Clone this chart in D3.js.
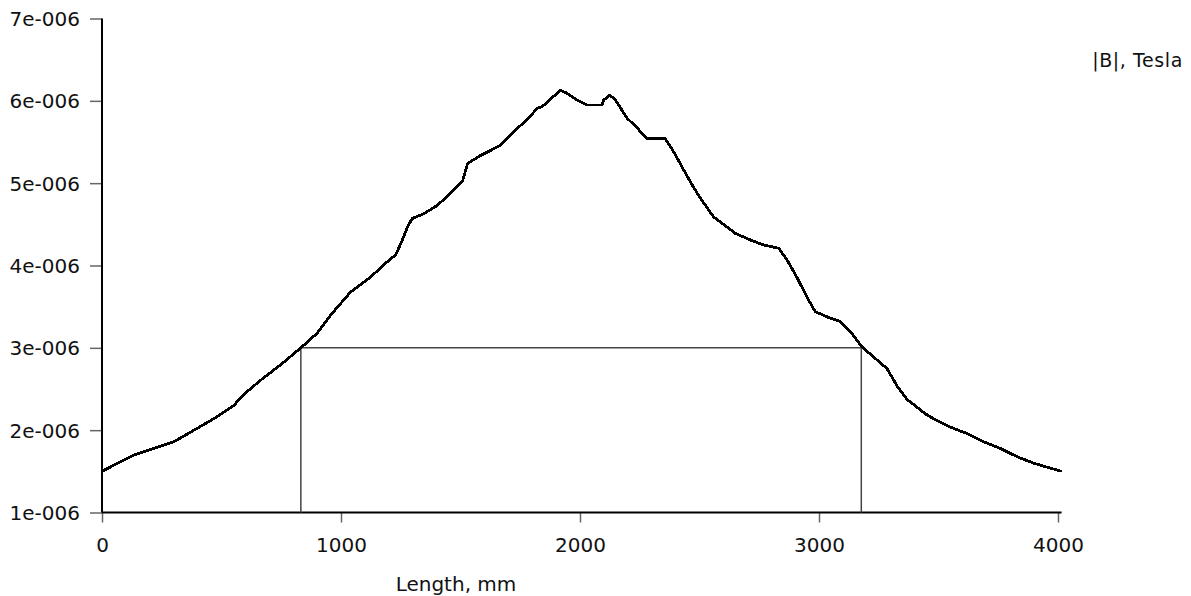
<!DOCTYPE html>
<html>
<head>
<meta charset="utf-8">
<script src="https://cdn.jsdelivr.net/npm/d3@7"></script>
<style>
  body { margin: 0; background: #fff; }
  svg text { font-family: "DejaVu Sans", Verdana, sans-serif; fill: #111; }
</style>
</head>
<body>
<div id="chart"></div>
<script>
"use strict";
(function() {

const WIDTH = 1191
const HEIGHT = 596

// |B| along the length (mm, tesla)
const lengthMm = [0, 134, 217, 301, 385, 468, 552, 581, 620, 665, 750, 832, 901, 957,
  1041, 1124, 1187, 1229, 1257, 1278, 1298, 1347, 1403, 1459, 1508, 1530, 1580, 1668,
  1723, 1779, 1821, 1842, 1877, 1918, 1947, 1988, 2030, 2093, 2099, 2125, 2148, 2197,
  2239, 2281, 2357, 2392, 2434, 2469, 2503, 2559, 2650, 2713, 2768, 2831, 2866, 2907,
  2949, 2984, 3047, 3089, 3131, 3180, 3284, 3330, 3370, 3410, 3444, 3479, 3548, 3618,
  3688, 3758, 3827, 3897, 3967, 4015]
const fieldB = [1.50, 1.70, 1.78, 1.86, 2.00, 2.14, 2.30, 2.40, 2.50, 2.61, 2.80, 3.00, 3.18, 3.40,
  3.68, 3.86, 4.03, 4.13, 4.31, 4.47, 4.57, 4.63, 4.73, 4.88, 5.02, 5.24, 5.33, 5.46,
  5.63, 5.77, 5.91, 5.93, 6.02, 6.13, 6.09, 6.01, 5.95, 5.95, 6.01, 6.07, 6.01, 5.79,
  5.67, 5.54, 5.54, 5.38, 5.16, 4.98, 4.82, 4.59, 4.39, 4.31, 4.25, 4.21, 4.07, 3.86,
  3.62, 3.44, 3.36, 3.32, 3.20, 3.01, 2.75, 2.52, 2.37, 2.28, 2.20, 2.14, 2.04, 1.96,
  1.86, 1.78, 1.68, 1.60, 1.54, 1.50].map(v => v * 1e-6)

// marker box at the 3e-006 level
const boxLength = [832, 3177]
const boxLevel = 3e-6

const xTicks = [0, 1000, 2000, 3000, 4000]
const yTicks = [1e-6, 2e-6, 3e-6, 4e-6, 5e-6, 6e-6, 7e-6]

const svg = d3.select("#chart").append("svg")
    .attr("width", WIDTH)
    .attr("height", HEIGHT)

let x_scale = d3.scaleLinear().domain([0, 4000]).range([102, 1058])
let y_scale = d3.scaleLinear().domain([1e-6, 7e-6]).range([512.5, 18.5])

const fmt = d => Math.round(d / 1e-6) + "e-006"

// y axis
let yAxis = svg.append("g")
    .attr("transform", `translate(${x_scale(0)},0)`)
    .call(d3.axisLeft(y_scale).tickValues(yTicks).tickFormat(fmt).tickSize(12).tickPadding(10))
yAxis.select(".domain").remove()
yAxis.selectAll(".tick line").attr("stroke", "#666").attr("stroke-width", 1.5)
yAxis.selectAll(".tick text").style("font-size", "20px").attr("dy", "0.35em")

// x axis
let xAxis = svg.append("g")
    .attr("transform", `translate(0,${y_scale(1e-6)})`)
    .call(d3.axisBottom(x_scale).tickValues(xTicks).tickFormat(d3.format("d")).tickSize(10).tickPadding(15))
xAxis.select(".domain").remove()
xAxis.selectAll(".tick line").attr("stroke", "#666").attr("stroke-width", 1.5)
xAxis.selectAll(".tick text").style("font-size", "20px")

// axis lines
svg.append("line")
    .attr("x1", x_scale(0)).attr("x2", x_scale(0))
    .attr("y1", y_scale(7e-6)).attr("y2", y_scale(1e-6))
    .attr("stroke", "#000").attr("stroke-width", 2)
svg.append("line")
    .attr("x1", x_scale(0)).attr("x2", x_scale(d3.max(lengthMm)))
    .attr("y1", y_scale(1e-6)).attr("y2", y_scale(1e-6))
    .attr("stroke", "#000").attr("stroke-width", 2)

// marker box
svg.append("path")
    .attr("d", d3.line()([
        [x_scale(boxLength[0]), y_scale(1e-6)],
        [x_scale(boxLength[0]), y_scale(boxLevel)],
        [x_scale(boxLength[1]), y_scale(boxLevel)],
        [x_scale(boxLength[1]), y_scale(1e-6)]
    ]))
    .attr("fill", "none")
    .attr("stroke", "#444")
    .attr("stroke-width", 1.5)

// field curve, drawn aliased like the original export
let line = d3.line()
  .x(d => x_scale(d[0]))
  .y(d => y_scale(d[1]))

svg.append("path")
    .attr("d", line(d3.zip(lengthMm, fieldB)))
    .attr("fill", "none")
    .attr("stroke", "#000")
    .attr("stroke-width", 2.8)
    .attr("stroke-linejoin", "round")
    .attr("shape-rendering", "crispEdges")

// titles
svg.append("text")
    .attr("x", 456).attr("y", 591)
    .attr("text-anchor", "middle")
    .style("font-size", "20px")
    .text("Length, mm")

svg.append("text")
    .attr("x", 1183).attr("y", 67)
    .attr("text-anchor", "end")
    .style("font-size", "19px")
    .style("letter-spacing", "0.6px")
    .text("|B|, Tesla")

})();
</script>
</body>
</html>
